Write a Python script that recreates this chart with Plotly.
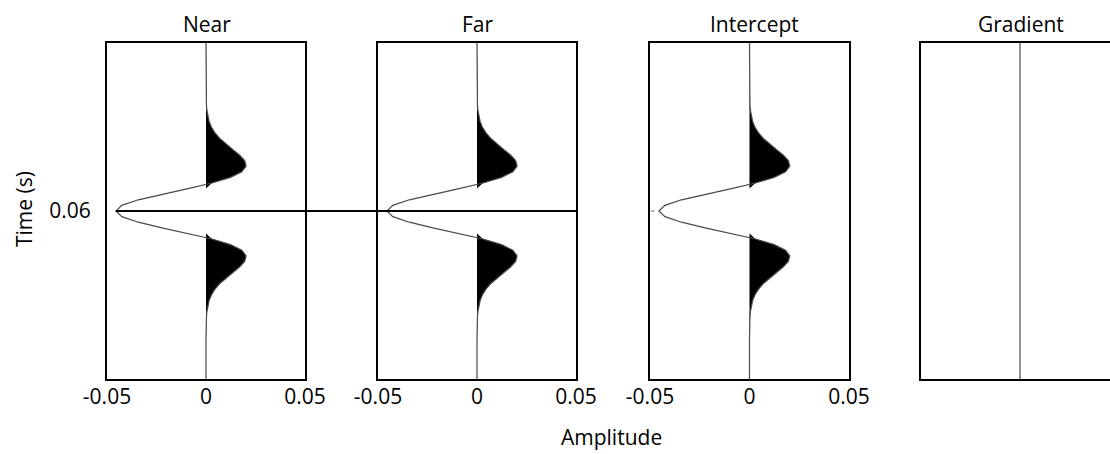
import plotly.graph_objects as go

# ---- data ----
time_s = [0.000, 0.002, 0.004, 0.006, 0.008, 0.010, 0.012, 0.014, 0.016, 0.018,
          0.020, 0.022, 0.024, 0.026, 0.028, 0.030, 0.032, 0.034, 0.036, 0.038,
          0.040, 0.042, 0.044, 0.046, 0.048, 0.050, 0.052, 0.054, 0.056, 0.058,
          0.060, 0.062, 0.064, 0.066, 0.068, 0.070, 0.072, 0.074, 0.076, 0.078,
          0.080, 0.082, 0.084, 0.086, 0.088, 0.090, 0.092, 0.094, 0.096, 0.098,
          0.100, 0.102, 0.104, 0.106, 0.108, 0.110, 0.112, 0.114, 0.116, 0.118,
          0.120]

near_amp = [0, 0, 0, 0, 0, 0, 0, 0, 0.00002, 0.00005,
            0.00010, 0.00022, 0.00044, 0.00086, 0.00157, 0.00271, 0.00444, 0.00685, 0.00993, 0.01345,
            0.01692, 0.01952, 0.02025, 0.01810, 0.01237, 0.00302, -0.00910, -0.02227, -0.03418, -0.04251,
            -0.04550,
            -0.04251, -0.03418, -0.02227, -0.00910, 0.00302, 0.01237, 0.01810, 0.02025, 0.01952, 0.01692,
            0.01345, 0.00993, 0.00685, 0.00444, 0.00271, 0.00157, 0.00086, 0.00044, 0.00022, 0.00010,
            0.00005, 0.00002, 0, 0, 0, 0, 0, 0, 0, 0]

far_amp = list(near_amp)
intercept_amp = list(near_amp)
gradient_amp = [0] * len(time_s)

panel_titles = ["Near", "Far", "Intercept", "Gradient"]
x_tickvals = [-0.05, 0, 0.05]
x_ticktext = ["-0.05", "0", "0.05"]
y_tickvals = [0.06]
y_ticktext = ["0.06"]
pick_time = 0.06

# ---- layout constants ----
W, H = 1110, 454
ML, MR, MT, MB = 107, 0, 43, 75
PW = W - ML - MR
PH = H - MT - MB
px_left = [107, 378, 650, 921]
px_right = [305, 576, 849, 1110]
domains = [[(a - ML) / PW, (b - ML) / PW] for a, b in zip(px_left, px_right)]
title_px = [207, 478, 754, 1021]

FONT = "Open Sans"
fig = go.Figure()

amps = [near_amp, far_amp, intercept_amp, gradient_amp]
for i, amp in enumerate(amps):
    xa = "x" if i == 0 else f"x{i+1}"
    ya = "y" if i == 0 else f"y{i+1}"
    pos = [a if a > 0 else 0 for a in amp]
    fig.add_trace(go.Scatter(x=pos, y=time_s, xaxis=xa, yaxis=ya, mode="lines",
                             line=dict(width=0, color="black"), fill="tozerox",
                             fillcolor="black", hoverinfo="skip", showlegend=False))
    fig.add_trace(go.Scatter(x=amp, y=time_s, xaxis=xa, yaxis=ya, mode="lines",
                             line=dict(width=1.2, color="#4a4a4a"), showlegend=False))

layout = dict(
    width=W, height=H, autosize=False,
    margin=dict(l=ML, r=MR, t=MT, b=MB, pad=0, autoexpand=False),
    paper_bgcolor="white", plot_bgcolor="white",
    font=dict(family=FONT, size=21, color="black"),
    showlegend=False,
)
for i in range(4):
    xk = "xaxis" if i == 0 else f"xaxis{i+1}"
    yk = "yaxis" if i == 0 else f"yaxis{i+1}"
    xa_anchor = "y" if i == 0 else f"y{i+1}"
    ya_anchor = "x" if i == 0 else f"x{i+1}"
    if i < 3:
        xr = [-0.05, 0.05]
    else:
        xr = [-0.05, -0.05 + (px_right[3] - px_left[3]) / 1980]
    layout[xk] = dict(domain=domains[i], anchor=xa_anchor, range=xr,
                      tickvals=x_tickvals, ticktext=x_ticktext,
                      showticklabels=(i < 3), ticks="", ticklabelstandoff=-2,
                      showline=True, linecolor="black", linewidth=2, mirror=True,
                      showgrid=False, zeroline=False, automargin=False)
    layout[yk] = dict(domain=[0, 1], anchor=ya_anchor, range=[0.12, 0],
                      tickvals=y_tickvals, ticktext=y_ticktext,
                      showticklabels=(i == 0), ticks="", ticklabelstandoff=10,
                      showline=True, linecolor="black", linewidth=2,
                      mirror=(i < 3), showgrid=False, zeroline=False, automargin=False)
fig.update_layout(**layout)

annotations = []
for i, t in enumerate(panel_titles):
    annotations.append(dict(text=t, xref="paper", yref="paper",
                            x=(title_px[i] - ML) / PW, y=(MT + PH - 24) / PH,
                            xanchor="center", yanchor="middle", showarrow=False,
                            font=dict(family=FONT, size=21, color="black")))
annotations.append(dict(text="Amplitude", xref="paper", yref="paper",
                        x=(611 - ML) / PW, y=(MT + PH - 437) / PH,
                        xanchor="center", yanchor="middle", showarrow=False,
                        font=dict(family=FONT, size=21, color="black")))
annotations.append(dict(text="Time (s)", xref="paper", yref="paper",
                        x=(24 - ML) / PW, y=(MT + PH - 209) / PH, textangle=-90,
                        xanchor="center", yanchor="middle", showarrow=False,
                        font=dict(family=FONT, size=21, color="black")))
fig.update_layout(annotations=annotations)

shapes = [
    dict(type="line", xref="x", yref="y", x0=min(near_amp), x1=0.05,
         y0=pick_time, y1=pick_time, line=dict(color="black", width=1.8), layer="above"),
    dict(type="line", xref="paper", yref="y", x0=domains[0][1], x1=domains[1][0],
         y0=pick_time, y1=pick_time, line=dict(color="black", width=1.8), layer="above"),
    dict(type="line", xref="x2", yref="y2", x0=-0.05, x1=0.05,
         y0=pick_time, y1=pick_time, line=dict(color="black", width=1.8), layer="above"),
    dict(type="line", xref="x3", yref="y3", x0=-0.0495, x1=-0.0478,
         y0=pick_time, y1=pick_time, line=dict(color="#666666", width=1), layer="above"),
]
fig.update_layout(shapes=shapes)

fig.write_html("out.html")
